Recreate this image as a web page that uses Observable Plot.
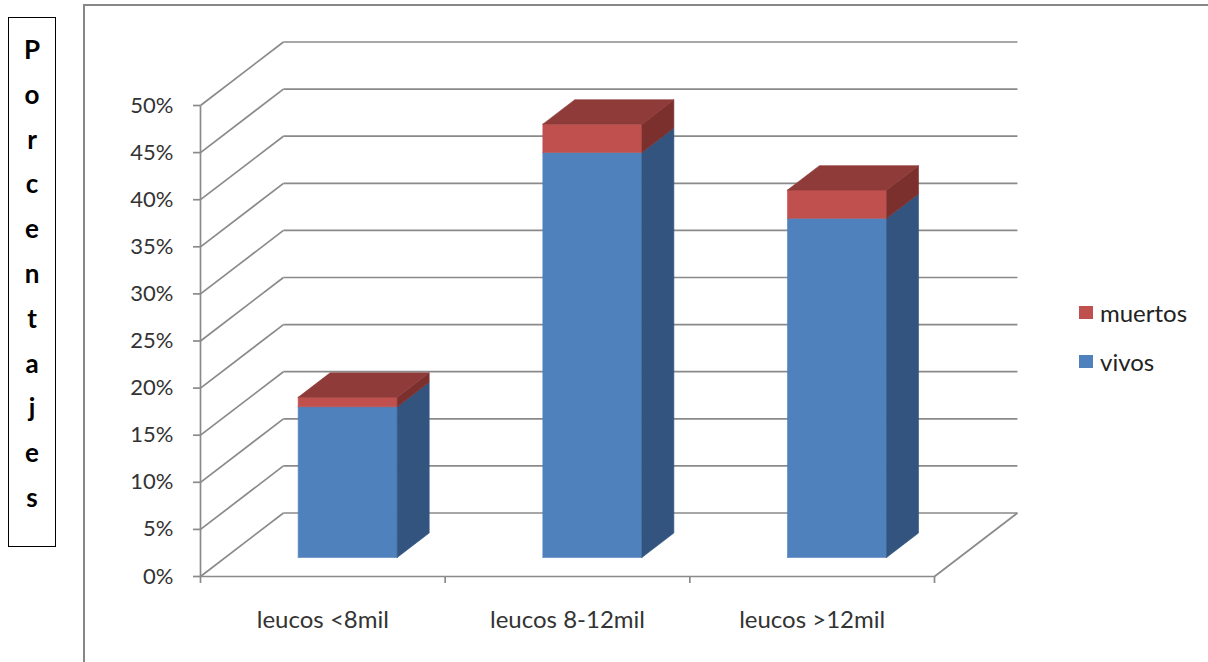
<!DOCTYPE html>
<html>
<head>
<meta charset="utf-8">
<script src="https://cdn.jsdelivr.net/npm/d3@7"></script>
<script src="https://cdn.jsdelivr.net/npm/@observablehq/plot@0.6"></script>
<style>
  html, body { margin: 0; padding: 0; background: #fff; }
  #wrap { position: relative; width: 1208px; height: 662px; overflow: hidden; background: #fff; font-family: Lato, "Open Sans", sans-serif; }
  #frame { position: absolute; left: 83px; top: 4px; width: 1200px; height: 720px; border: 2px solid #878787; box-sizing: border-box; }
  #ybox { position: absolute; left: 8px; top: 17px; width: 48px; height: 530px; border: 1.5px solid #000; box-sizing: border-box; }
  #ytitle { position: absolute; left: 8px; top: 27px; width: 48px; text-align: center; font: bold 26px Lato, sans-serif; line-height: 44.8px; color: #000; }
  #chart { position: absolute; left: 0; top: 0; }
  .leg { position: absolute; left: 1079px; display: flex; align-items: center; font: 24px Lato, sans-serif; color: #222; }
  .leg span.sw { display: inline-block; width: 14px; height: 13px; margin-right: 7px; }
</style>
</head>
<body>
<div id="wrap">
  <div id="frame"></div>
  <div id="ybox"></div>
  <div id="ytitle"></div>
  <div id="chart"></div>
  <div id="legend"></div>
</div>
<script>
// ---- data ----
const categories = ["leucos <8mil", "leucos 8-12mil", "leucos >12mil"];
const vivos = [16, 43, 36];
const muertos = [1, 3, 3];
const yTicks = [0, 5, 10, 15, 20, 25, 30, 35, 40, 45, 50];
const xTickPositions = [0, 1, 2, 3];
const yTitle = "Porcentajes";
const seriesNames = ["muertos", "vivos"];

// ---- style / geometry ----
const colors = {
  vivos: { front: "#4F81BD", side: "#32547F", top: "#3E6698" },
  muertos: { front: "#C0504D", side: "#7C302E", top: "#8F3B39" }
};
const gridColor = "#8a8a8a";
const DEPTH_X = 0.339;   // depth offset in category units
const DEPTH_Y = 6.74;    // depth offset in percent units
const BAR_W = 0.405;     // bar width in category units
const D0 = 0.30, D1 = 0.685; // bar front / back depth

const P = (x, y, d) => ({ x: x + d * DEPTH_X, y: y + d * DEPTH_Y });

function boxFaces(seriesKey, bottoms, tops, withTop) {
  const front = [], side = [], top = [];
  categories.forEach((c, i) => {
    const xl = i + 0.5 - BAR_W / 2, xr = i + 0.5 + BAR_W / 2;
    const y0 = bottoms[i], y1 = tops[i];
    const id = seriesKey + i;
    [P(xl, y0, D0), P(xr, y0, D0), P(xr, y1, D0), P(xl, y1, D0), P(xl, y0, D0)]
      .forEach(p => front.push({ id, ...p }));
    [P(xr, y0, D0), P(xr, y1, D0), P(xr, y1, D1), P(xr, y0, D1), P(xr, y0, D0)]
      .forEach(p => side.push({ id, ...p }));
    if (withTop) [P(xl, y1, D0), P(xr, y1, D0), P(xr, y1, D1), P(xl, y1, D1), P(xl, y1, D0)]
      .forEach(p => top.push({ id, ...p }));
  });
  return { front, side, top };
}

const zeros = categories.map(() => 0);
const totals = vivos.map((v, i) => v + muertos[i]);
const vFaces = boxFaces("v", zeros, vivos, true);
const mFaces = boxFaces("m", vivos, totals, true);

// grid: back wall lines + left wall diagonals + floor
const links = [];
yTicks.forEach(v => {
  links.push({ x1: DEPTH_X, y1: v + DEPTH_Y, x2: 3 + DEPTH_X, y2: v + DEPTH_Y });
  links.push({ x1: 0, y1: v, x2: DEPTH_X, y2: v + DEPTH_Y });
});
links.push({ x1: 0, y1: 0, x2: 3, y2: 0 });
links.push({ x1: 3, y1: 0, x2: 3 + DEPTH_X, y2: DEPTH_Y });
links.push({ x1: 0, y1: 0, x2: 0, y2: 50 });

const poly = (data, fill) => Plot.line(data, { x: "x", y: "y", z: "id", fill, stroke: fill, strokeWidth: 0.6, curve: "linear" });

const chart = Plot.plot({
  width: 1208,
  height: 662,
  marginLeft: 200,
  marginRight: 274,
  marginTop: 105,
  marginBottom: 86,
  style: { fontFamily: "Lato, sans-serif", fontSize: "22px", background: "transparent", overflow: "visible" },
  x: { domain: [0, 3], axis: null },
  y: { domain: [0, 50], axis: null },
  marks: [
    Plot.link(links, { x1: "x1", y1: "y1", x2: "x2", y2: "y2", stroke: gridColor, strokeWidth: 1.7 }),
    Plot.axisY(yTicks, { tickFormat: d => d + "%", tickSize: 7, tickPadding: 20, stroke: gridColor, strokeWidth: 1.7, fill: "#333", fontSize: 22, label: null }),
    Plot.axisX(xTickPositions, { tickSize: 7, tickFormat: () => "", stroke: gridColor, strokeWidth: 1.7, label: null }),
    Plot.text(categories, { x: (d, i) => i + 0.5, y: () => 0, text: d => d, dy: 44, lineAnchor: "middle", textAnchor: "middle", fill: "#333", fontSize: 24 }),
    poly(vFaces.front, colors.vivos.front),
    poly(vFaces.side, colors.vivos.side),
    poly(mFaces.front, colors.muertos.front),
    poly(mFaces.side, colors.muertos.side),
    poly(mFaces.top, colors.muertos.top)
  ]
});
document.getElementById("chart").appendChild(chart);

// Y title (vertical letters)
document.getElementById("ytitle").innerHTML = yTitle.split("").map(ch => `<div>${ch}</div>`).join("");

// legend
const legendTops = { muertos: 298, vivos: 347 };
document.getElementById("legend").innerHTML = seriesNames.map(n =>
  `<div class="leg" style="top:${legendTops[n]}px"><span class="sw" style="background:${colors[n].front}"></span>${n}</div>`
).join("");
</script>
</body>
</html>
